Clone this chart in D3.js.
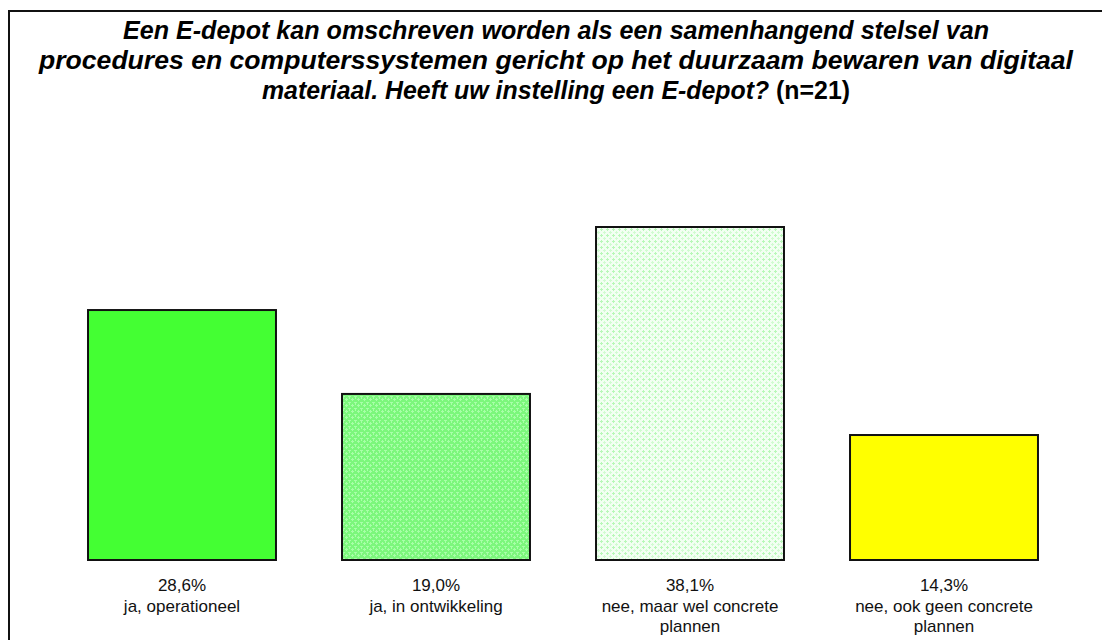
<!DOCTYPE html>
<html>
<head>
<meta charset="utf-8">
<script src="https://cdn.jsdelivr.net/npm/d3@7"></script>
<style>
body { margin: 0; background: #fff; }
svg { display: block; font-family: "Liberation Sans", Arial, sans-serif; }
</style>
</head>
<body>
<div id="vis"></div>
<script>
var width = 1102;
var height = 640;

var categories = ["ja, operationeel", "ja, in ontwikkeling", "nee, maar wel concrete plannen", "nee, ook geen concrete plannen"];
var values = [28.6, 19.0, 38.1, 14.3];
var valueLabels = ["28,6%", "19,0%", "38,1%", "14,3%"];
var labelLines = [["ja, operationeel"], ["ja, in ontwikkeling"], ["nee, maar wel concrete", "plannen"], ["nee, ook geen concrete", "plannen"]];
var fills = ["#44ff33", "url(#pat2)", "url(#pat3)", "#ffff00"];
var titleLines = [
    "Een E-depot kan omschreven worden als een samenhangend stelsel van",
    "procedures en computerssystemen gericht op het duurzaam bewaren van digitaal",
    "materiaal. Heeft uw instelling een E-depot?"
];
var titleWidths = [866, 1034, 588];

var svg = d3.select('#vis')
    .append('svg')
    .attr('width', width)
    .attr('height', height);

// fill patterns for the two dotted bars
var defs = svg.append('defs');
var p2 = defs.append('pattern').attr('id', 'pat2')
    .attr('patternUnits', 'userSpaceOnUse').attr('width', 6).attr('height', 6);
p2.append('rect').attr('width', 6).attr('height', 6).attr('fill', '#7cf77c');
p2.append('rect').attr('x', 0).attr('y', 0).attr('width', 3).attr('height', 1).attr('fill', '#a8ffa8');
p2.append('rect').attr('x', 1).attr('y', 0).attr('width', 1).attr('height', 3).attr('fill', '#a8ffa8');
p2.append('rect').attr('x', 3).attr('y', 3).attr('width', 3).attr('height', 1).attr('fill', '#a8ffa8');
p2.append('rect').attr('x', 4).attr('y', 2).attr('width', 1).attr('height', 3).attr('fill', '#a8ffa8');

var p3 = defs.append('pattern').attr('id', 'pat3')
    .attr('patternUnits', 'userSpaceOnUse').attr('width', 6).attr('height', 6);
p3.append('rect').attr('width', 6).attr('height', 6).attr('fill', '#f2fff2');
p3.append('rect').attr('x', 0).attr('y', 1).attr('width', 3).attr('height', 1).attr('fill', '#b8f8b8');
p3.append('rect').attr('x', 1).attr('y', 0).attr('width', 1).attr('height', 3).attr('fill', '#b8f8b8');
p3.append('rect').attr('x', 3).attr('y', 4).attr('width', 3).attr('height', 1).attr('fill', '#d0fcd0');
p3.append('rect').attr('x', 4).attr('y', 3).attr('width', 1).attr('height', 3).attr('fill', '#d0fcd0');

// outer frame (runs off right and bottom)
svg.append('rect')
    .attr('x', 9).attr('y', 11)
    .attr('width', 1110).attr('height', 650)
    .attr('fill', 'none')
    .attr('stroke', '#111')
    .attr('stroke-width', 2);

// title, one text per line so each can be fitted to the reference width
titleLines.forEach(function (line, i) {
    var t = svg.append('text')
        .attr('x', 556)
        .attr('y', 39 + i * 30)
        .attr('text-anchor', 'middle')
        .attr('font-size', 25)
        .attr('font-weight', 'bold')
        .attr('textLength', titleWidths[i])
        .attr('lengthAdjust', 'spacingAndGlyphs');
    t.append('tspan').attr('font-style', 'italic').text(line);
    if (i == titleLines.length - 1) {
        t.append('tspan').attr('font-style', 'normal').text(' (n=21)');
    }
});

var x = d3.scaleBand()
    .domain(categories)
    .range([55, 1071])
    .paddingInner(0.26)
    .paddingOuter(0.13);

var y = d3.scaleLinear()
    .domain([0, 40])
    .range([560, 560 - 40 * 8.74]);

svg.append('g').selectAll('rect')
    .data(values)
    .enter().append('rect')
    .attr('x', function (d, i) { return x(categories[i]); })
    .attr('y', function (d) { return y(d); })
    .attr('width', x.bandwidth())
    .attr('height', function (d) { return y(0) - y(d); })
    .attr('fill', function (d, i) { return fills[i]; })
    .attr('stroke', '#111')
    .attr('stroke-width', 2);

var labels = svg.append('g').selectAll('text')
    .data(categories)
    .enter().append('text')
    .attr('text-anchor', 'middle')
    .attr('font-size', 17)
    .attr('fill', '#111');
labels.each(function (c, i) {
    var el = d3.select(this);
    var cx = x(c) + x.bandwidth() / 2;
    var lines = [valueLabels[i]].concat(labelLines[i]);
    lines.forEach(function (l, j) {
        el.append('tspan').attr('x', cx).attr('y', 591 + j * 20.5).text(l);
    });
});
</script>
</body>
</html>
